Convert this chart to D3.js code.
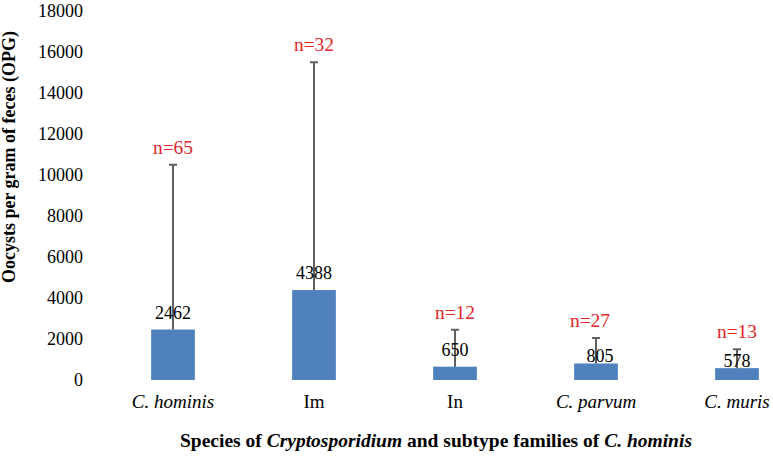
<!DOCTYPE html>
<html>
<head>
    <title>OPG</title>
    <script src="https://d3js.org/d3.v7.min.js"></script>
    <style>
        body { margin: 0; background: #fff; }
        .tick-label { font-size: 18px; fill: #000; }
        .cat-label { font-size: 19px; fill: #000; }
        .value-label { font-size: 18px; fill: #000; }
        .n-label { font-size: 19.5px; fill: #e3262b; }
        .axis-title { font-size: 18px; font-weight: bold; fill: #000; }
    </style>
</head>
<body>
<svg width="773" height="464"></svg>
<script>
    // data
    var categories = ["C. hominis", "Im", "In", "C. parvum", "C. muris"];
    var italicCat = [true, false, false, true, true];
    var means = [2462, 4388, 650, 805, 578];
    var errTops = [10500, 15500, 2450, 2050, 1500];
    var sampleN = [65, 32, 12, 27, 13];
    var yTicks = [0, 2000, 4000, 6000, 8000, 10000, 12000, 14000, 16000, 18000];

    var svg = d3.select("svg")
        .style("font-family", "'Liberation Serif', 'Times New Roman', serif");

    var x = d3.scaleBand()
        .domain(categories)
        .range([102.5, 807.5])
        .paddingInner(0.69)
        .paddingOuter(0.345);

    var y = d3.scaleLinear()
        .domain([0, 18000])
        .range([380, 11]);

    // y tick labels (no axis line, no gridlines)
    svg.append("g").selectAll("text")
        .data(yTicks)
        .enter().append("text")
        .attr("class", "tick-label")
        .attr("x", 83)
        .attr("y", d => y(d))
        .attr("dy", "0.35em")
        .attr("text-anchor", "end")
        .text(d => d);

    var rows = categories.map((c, i) => ({cat: c, mean: means[i], top: errTops[i], n: sampleN[i], it: italicCat[i]}));

    // bars
    svg.append("g").selectAll("rect")
        .data(rows)
        .enter().append("rect")
        .attr("x", d => x(d.cat))
        .attr("y", d => y(d.mean))
        .attr("width", x.bandwidth())
        .attr("height", d => y(0) - y(d.mean))
        .attr("fill", "#4f81bd");

    // error bars (upper only)
    var eb = svg.append("g").attr("stroke", "#5f5f5f").attr("stroke-width", 2);
    rows.forEach(function(d) {
        var cx = x(d.cat) + x.bandwidth() / 2;
        eb.append("line").attr("x1", cx).attr("x2", cx).attr("y1", y(d.mean)).attr("y2", y(d.top));
        eb.append("line").attr("x1", cx - 4).attr("x2", cx + 4).attr("y1", y(d.top)).attr("y2", y(d.top));
    });

    // the two smallest labels sit right on the bar in the original
    var labelLift = {"C. parvum": 1, "C. muris": 1};

    svg.append("g").selectAll("text")
        .data(rows)
        .enter().append("text")
        .attr("class", "value-label")
        .attr("x", d => x(d.cat) + x.bandwidth() / 2 + (d.cat === "C. parvum" ? 4 : 0))
        .attr("y", d => y(d.mean) - (labelLift[d.cat] ? 1 : 11))
        .attr("text-anchor", "middle")
        .text(d => d.mean);

    svg.append("g").selectAll("text")
        .data(rows)
        .enter().append("text")
        .attr("class", "n-label")
        .attr("x", d => x(d.cat) + x.bandwidth() / 2 + (d.cat === "C. parvum" ? -6 : 0))
        .attr("y", d => y(d.top) - 11)
        .attr("text-anchor", "middle")
        .text(d => "n=" + d.n);

    // category labels
    svg.append("g").selectAll("text")
        .data(rows)
        .enter().append("text")
        .attr("class", "cat-label")
        .attr("x", d => x(d.cat) + x.bandwidth() / 2)
        .attr("y", 408)
        .attr("text-anchor", "middle")
        .style("font-style", d => d.it ? "italic" : "normal")
        .text(d => d.cat);

    // axis titles
    svg.append("text")
        .attr("class", "axis-title")
        .attr("transform", "translate(15,157) rotate(-90)")
        .attr("text-anchor", "middle")
        .text("Oocysts per gram of feces (OPG)");

    var xt = svg.append("text")
        .attr("class", "axis-title")
        .style("font-size", "19.5px")
        .attr("x", 436)
        .attr("y", 447)
        .attr("text-anchor", "middle");
    xt.append("tspan").text("Species of ");
    xt.append("tspan").style("font-style", "italic").text("Cryptosporidium");
    xt.append("tspan").text(" and subtype families of ");
    xt.append("tspan").style("font-style", "italic").text("C. hominis");
</script>
</body>
</html>
